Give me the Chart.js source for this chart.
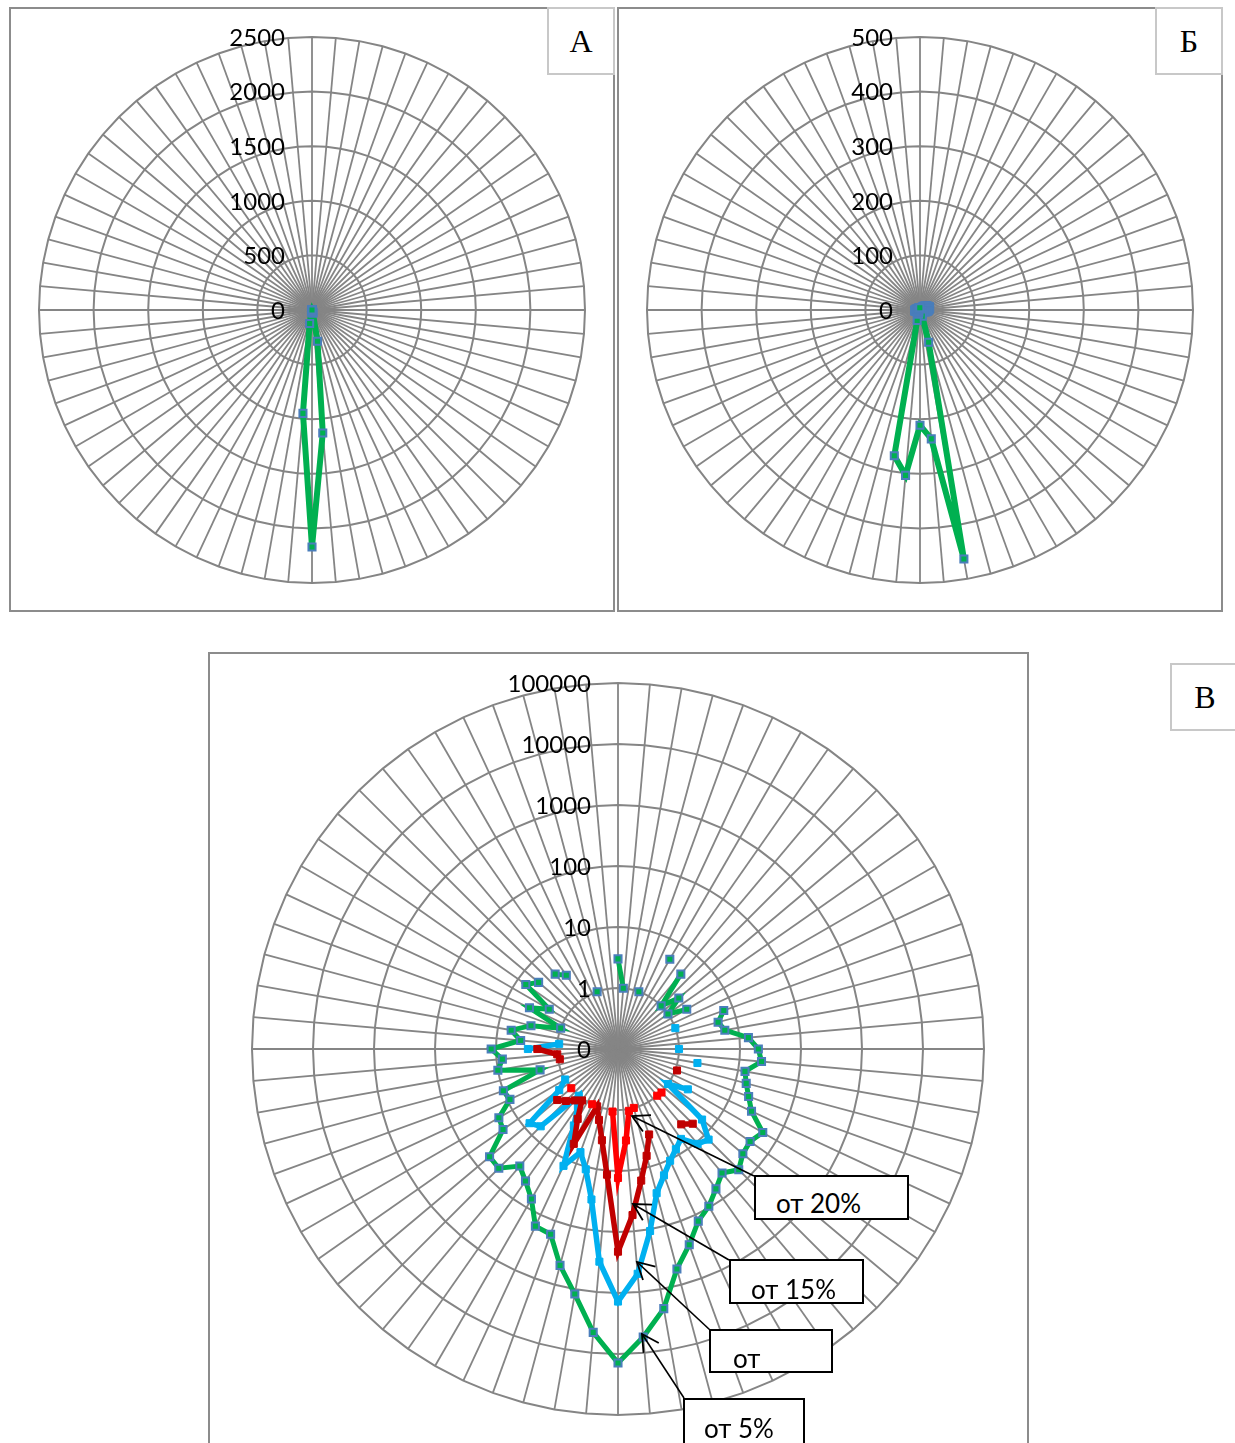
<!DOCTYPE html>
<html lang="ru">
<head>
  <meta charset="UTF-8" />
  <title>Радарные диаграммы А, Б, В</title>
  <style>
    body { margin: 0; width: 1235px; height: 1443px; overflow: hidden; background: #fff; position: relative; font-family: Lato, 'Open Sans', sans-serif; }
    .frame { position: absolute; border: 2px solid #8c8c8c; box-sizing: border-box; }
    .tag {
      position: absolute; border: 2px solid #c8c8c8; box-sizing: border-box; background: #fff;
      font-family: 'Liberation Serif', 'DejaVu Serif', serif; font-size: 32px;
      display: flex; align-items: center; justify-content: center;
    }
    canvas { position: absolute; }
    .callout {
      position: absolute; border: 2px solid #000; background: #fff; box-sizing: border-box;
      font-size: 26px; line-height: 30px; color: #000;
    }
    #arrows { position: absolute; left: 0; top: 0; }
  </style>
</head>
<body>
  <div class="frame" style="left:9px; top:7px; width:606px; height:605px;"></div>
  <div class="frame" style="left:617px; top:7px; width:606px; height:605px;"></div>
  <div class="frame" style="left:208px; top:652px; width:821px; height:820px;"></div>

  <canvas id="chartA" width="586" height="586" style="left:19px; top:17px;"></canvas>
  <canvas id="chartB" width="586" height="586" style="left:627px; top:17px;"></canvas>
  <canvas id="chartC" width="772" height="772" style="left:232px; top:663px;"></canvas>

  <div class="tag" style="left:547px; top:7px; width:68px; height:68px;">А</div>
  <div class="tag" style="left:1155px; top:7px; width:68px; height:68px;">Б</div>
  <div class="tag" style="left:1170px; top:663px; width:70px; height:68px;">В</div>

  <svg id="arrows" width="1235" height="1443"></svg>

  <div class="callout" style="left:754px; top:1175px; width:155px; height:45px; padding:11px 0 0 20px;">от 20%</div>
  <div class="callout" style="left:729px; top:1259px; width:135px; height:45px; padding:13px 0 0 20px;">от 15%</div>
  <div class="callout" style="left:709px; top:1329px; width:124px; height:44px; padding:12px 0 0 22px;">от</div>
  <div class="callout" style="left:683px; top:1398px; width:122px; height:60px; padding:13px 0 0 19px;">от 5%</div>

  <script src="https://cdn.jsdelivr.net/npm/chart.js"></script>
  <script>
    // categories: direction in degrees, 5 degree step
    const angles = [
      '0','5','10','15','20','25','30','35','40','45','50','55',
      '60','65','70','75','80','85','90','95','100','105','110','115',
      '120','125','130','135','140','145','150','155','160','165','170','175',
      '180','185','190','195','200','205','210','215','220','225','230','235',
      '240','245','250','255','260','265','270','275','280','285','290','295',
      '300','305','310','315','320','325','330','335','340','345','350','355'
    ];

    // chart A (linear, 0..2500)
    const seriesA = [
      0, 0, 0, 0, 0, 0, 0, 0, 0, 0, 0, 0,
      0, 0, 0, 0, 0, 0, 0, 0, 0, 0, 0, 0,
      0, 0, 0, 0, 0, 0, 0, 15, 25, 30, 290, 1130,
      2170, 950, 125, 20, 10, 0, 0, 0, 0, 0, 0, 0,
      0, 0, 0, 0, 0, 0, 0, 0, 0, 0, 0, 0,
      0, 0, 0, 0, 0, 0, 0, 0, 0, 0, 0, 0
    ];
    const ticksA = ['0', '500', '1000', '1500', '2000', '2500'];

    // chart Б (linear, 0..500)
    const seriesB = [
      4, 4, 3, 3, 3, 4, 5, 6, 8, 10, 12, 14,
      15, 16, 18, 18, 18, 17, 16, 15, 14, 12, 10, 8,
      6, 5, 4, 4, 5, 6, 8, 10, 12, 61, 463, 237,
      211, 304, 271, 20, 8, 6, 5, 4, 4, 4, 5, 5,
      6, 6, 8, 8, 10, 10, 10, 8, 8, 6, 6, 5,
      5, 5, 4, 4, 4, 4, 4, 4, 4, 4, 4, 4
    ];
    const ticksB = ['0', '100', '200', '300', '400', '500'];

    // chart В (log scale), null = no value
    const from5 = [
      3, 1, null, null, 1, null, 5, null, 4, 1, 2, 1,
      2, null, 7, 5, 6, 14, 20, 23, 13, 15, 19, 26,
      55, 44, 47, 63, 45, 63, 95, 130, 260, 540, 2100, 5500,
      14000, 4600, 1200, 470, 170, 160, 69, 44, 32, 58, 56, 20,
      18, 9, 10, 2.1, 10, 8, 12, 4, 6, 3, 1, 4,
      2, 7, 5, null, 4, 3, null, null, 1, null, null, null
    ];
    const from10 = [
      null, null, null, null, null, null, null, null, null, null, null, null,
      null, null, 1, null, null, null, 1, null, 2.1, null, null, null,
      2.1, 1, 6.3, 12.6, 10.7, 6.3, 7.9, 10.5, 16, 28, 107, 500,
      1380, 316, 32, 11, 6.3, 13, 2.8, 1.4, 1, 6.2, 7.8, 1.5,
      1, null, null, null, null, null, 3, 0.93, null, null, null, null,
      null, null, null, null, null, null, null, null, null, null, null, null
    ];
    const from15 = [
      null, null, null, null, null, null, null, null, null, null, null, null,
      null, null, null, null, null, null, null, null, null, null, 1.07, null,
      null, null, null, 5.4, 4.1, null, null, null, 3.1, 6.5, 15.5, 54,
      210, 11.7, 3.3, 1.6, 1, 5.2, 2.1, 1.07, 1.26, 1.6, 2, null,
      null, null, null, null, 0.93, 1, 2.1, null, null, null, null, null,
      null, null, null, null, null, null, null, null, null, null, null, null
    ];
    const from20 = [
      null, null, null, null, null, null, null, null, null, null, null, null,
      null, null, null, null, null, null, null, null, null, null, null, null,
      null, null, null, 1.02, 1, null, null, null, null, 1, 1.07, 3.2,
      13, 1.07, null, null, null, 1, null, null, null, null, 1, null,
      null, null, null, null, null, null, null, null, null, null, null, null,
      null, null, null, null, null, null, null, null, null, null, null, null
    ];
    const ticksC = ['0', '1', '10', '100', '1000', '10000', '100000'];

    const GRID = '#858585';
    const GREEN = '#00b050';
    const MARK = '#4a7ebb';

    // value axis labels sit left of the vertical spoke
    const tickLabels = {
      id: 'tickLabels',
      afterDraw(chart, args, opts) {
        const r = chart.scales.r;
        const ctx = chart.ctx;
        ctx.save();
        ctx.font = '24px Lato, "Open Sans", sans-serif';
        ctx.fillStyle = '#000';
        ctx.textAlign = 'right';
        ctx.textBaseline = 'middle';
        opts.labels.forEach((txt, i) => {
          const d = r.getDistanceFromCenterForValue(opts.values[i]);
          ctx.fillText(txt, r.xCenter - 27, r.yCenter - d + 1);
        });
        ctx.restore();
      }
    };

    function radarOptions(max, step, labels, values) {
      return {
        responsive: false,
        animation: false,
        layout: { padding: 20 },
        plugins: {
          legend: { display: false },
          tooltip: { enabled: false },
          tickLabels: { labels: labels, values: values }
        },
        scales: {
          r: {
            min: 0,
            max: max,
            ticks: { display: false, stepSize: step },
            grid: { color: GRID, lineWidth: 2 },
            angleLines: { color: GRID, lineWidth: 1.8 },
            pointLabels: { display: false }
          }
        }
      };
    }

    function greenSet(data, width) {
      return {
        data: data,
        borderColor: GREEN,
        borderWidth: width,
        fill: false,
        pointStyle: 'rect',
        pointRadius: 5,
        pointBorderColor: MARK,
        pointBackgroundColor: GREEN,
        pointBorderWidth: 2
      };
    }

    new Chart(document.getElementById('chartA'), {
      type: 'radar',
      data: { labels: angles, datasets: [greenSet(seriesA, 6)] },
      options: radarOptions(2500, 500, ticksA, [0, 500, 1000, 1500, 2000, 2500]),
      plugins: [tickLabels]
    });

    new Chart(document.getElementById('chartB'), {
      type: 'radar',
      data: { labels: angles, datasets: [greenSet(seriesB, 6)] },
      options: radarOptions(500, 100, ticksB, [0, 100, 200, 300, 400, 500]),
      plugins: [tickLabels]
    });

    // log10 scale: ring k holds 10^(k-1), the centre ring is labelled 0
    const toLog = arr => arr.map(v => v == null ? null : Math.log10(v) + 1);

    function plainSet(data, color, order) {
      return {
        data: toLog(data),
        borderColor: color,
        borderWidth: 5.5,
        fill: false,
        order: order,
        pointStyle: 'rect',
        pointRadius: 5,
        pointBorderColor: color,
        pointBackgroundColor: color,
        pointBorderWidth: 1
      };
    }

    const g5 = greenSet(toLog(from5), 5);
    g5.order = 4;

    new Chart(document.getElementById('chartC'), {
      type: 'radar',
      data: {
        labels: angles,
        datasets: [
          g5,
          plainSet(from10, '#00b0f0', 3),
          plainSet(from15, '#c00000', 2),
          plainSet(from20, '#ff0000', 1)
        ]
      },
      options: radarOptions(6, 1, ticksC, [0, 1, 2, 3, 4, 5, 6]),
      plugins: [tickLabels]
    });

    // callout arrows: tail at box corner, open head at the line it points to
    const arrows = [
      [754, 1176, 632, 1116],
      [729, 1260, 633, 1204],
      [710, 1330, 637, 1262],
      [684, 1398, 642, 1334]
    ];
    const svg = document.getElementById('arrows');
    const NS = 'http://www.w3.org/2000/svg';
    arrows.forEach(([x1, y1, x2, y2]) => {
      const line = document.createElementNS(NS, 'line');
      line.setAttribute('x1', x1); line.setAttribute('y1', y1);
      line.setAttribute('x2', x2); line.setAttribute('y2', y2);
      line.setAttribute('stroke', '#000'); line.setAttribute('stroke-width', '1.6');
      svg.appendChild(line);
      const a = Math.atan2(y1 - y2, x1 - x2);
      const len = 19, spread = 0.5;
      const head = document.createElementNS(NS, 'polyline');
      const p1 = [x2 + len * Math.cos(a - spread), y2 + len * Math.sin(a - spread)];
      const p2 = [x2 + len * Math.cos(a + spread), y2 + len * Math.sin(a + spread)];
      head.setAttribute('points', `${p1[0]},${p1[1]} ${x2},${y2} ${p2[0]},${p2[1]}`);
      head.setAttribute('fill', 'none');
      head.setAttribute('stroke', '#000'); head.setAttribute('stroke-width', '1.8');
      svg.appendChild(head);
    });
  </script>
</body>
</html>
